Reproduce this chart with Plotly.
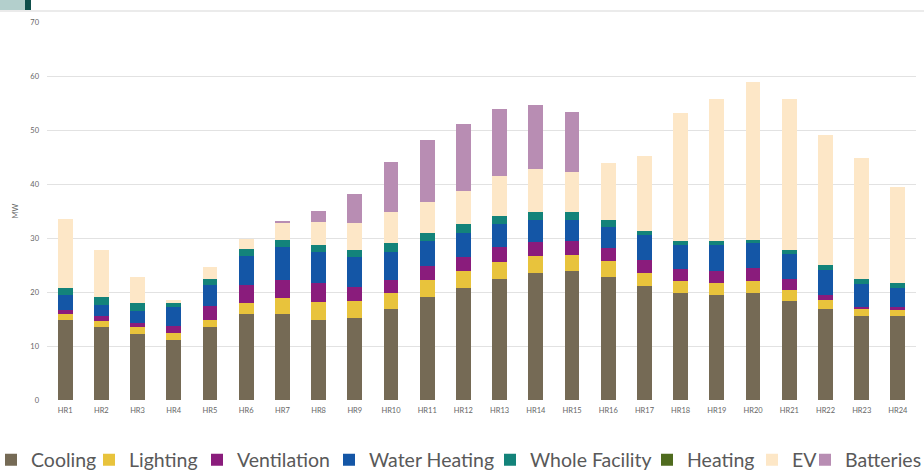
import plotly.graph_objects as go

# Hourly load by end use (MW)
hours = [f"HR{i}" for i in range(1, 25)]

cooling = [14.8, 13.6, 12.2, 11.1, 13.6, 16.0, 16.0, 14.8, 15.1, 16.8, 19.0, 20.7,
           22.4, 23.6, 23.8, 22.8, 21.1, 19.8, 19.4, 19.8, 18.4, 16.8, 15.6, 15.6]
lighting = [1.2, 1.1, 1.3, 1.4, 1.3, 2.0, 2.8, 3.4, 3.3, 3.1, 3.2, 3.2,
            3.1, 3.1, 3.1, 2.9, 2.5, 2.2, 2.3, 2.3, 2.0, 1.7, 1.2, 1.1]
ventilation = [0.7, 0.9, 0.7, 1.2, 2.5, 3.3, 3.5, 3.5, 2.6, 2.4, 2.6, 2.6,
               2.9, 2.6, 2.6, 2.4, 2.4, 2.2, 2.2, 2.3, 2.1, 0.9, 0.5, 0.6]
water_heating = [2.7, 2.0, 2.3, 3.6, 3.9, 5.4, 6.1, 5.8, 5.4, 5.2, 4.7, 4.4,
                 4.2, 4.1, 3.9, 4.0, 4.6, 4.5, 4.8, 4.6, 4.5, 4.7, 4.2, 3.4]
whole_facility = [1.3, 1.5, 1.5, 0.6, 1.2, 1.2, 1.3, 1.2, 1.3, 1.5, 1.5, 1.7,
                  1.5, 1.5, 1.5, 1.3, 0.7, 0.7, 0.7, 0.7, 0.8, 0.9, 1.0, 1.0]
heating = [0.0] * 24
ev = [12.9, 8.6, 4.8, 0.7, 2.1, 2.0, 3.0, 4.3, 5.1, 5.9, 5.6, 6.1,
      7.3, 7.8, 7.4, 10.4, 13.8, 23.7, 26.3, 29.1, 27.9, 24.1, 22.4, 17.8]
batteries = [0, 0, 0, 0, 0, 0, 0.5, 2.0, 5.3, 9.2, 11.5, 12.5,
             12.4, 11.9, 11.0, 0, 0, 0, 0, 0, 0, 0, 0, 0]

series = [
    ("Cooling", cooling, "#756a55"),
    ("Lighting", lighting, "#e8c33c"),
    ("Ventilation", ventilation, "#8a1c7c"),
    ("Water Heating", water_heating, "#1456a6"),
    ("Whole Facility", whole_facility, "#13837a"),
    ("Heating", heating, "#4f6b1e"),
    ("EV", ev, "#fde7c7"),
    ("Batteries", batteries, "#b88db3"),
]

# Where each legend entry's text begins (pixels from the left edge)
legend_text_x = [31, 129, 237, 369, 530, 687, 792, 845]
LEGEND_TEXT_OFFSET = 40

W, H = 924, 472
ML, MR, MT, MB = 47, 8, 22, 72
PW, PH = W - ML - MR, H - MT - MB


def px_x(px):
    return (px - ML) / PW


def px_y(py):
    return (H - MB - py) / PH


fig = go.Figure()
layout_legends = {}
for i, (name, vals, color) in enumerate(series):
    key = "legend" if i == 0 else f"legend{i + 1}"
    fig.add_trace(go.Bar(
        x=hours, y=vals, name=name, marker_color=color,
        marker_line_width=0, legend=key,
    ))
    layout_legends[key] = dict(
        x=px_x(legend_text_x[i] - LEGEND_TEXT_OFFSET), xanchor="left",
        y=px_y(460), yanchor="middle",
        orientation="h", itemwidth=30,
        font=dict(family="Lato", size=19.5, color="#595959"),
        bgcolor="rgba(0,0,0,0)", borderwidth=0,
    )

fig.update_layout(
    width=W, height=H,
    margin=dict(l=ML, r=MR, t=MT, b=MB, autoexpand=False),
    barmode="stack", bargap=0.59,
    plot_bgcolor="white", paper_bgcolor="white",
    font=dict(family="Lato", color="#666666"),
    xaxis=dict(
        showgrid=False, zeroline=False, showline=False, automargin=False,
        tickfont=dict(size=7.5, color="#666666"), ticklabelstandoff=4,
        ticks="", range=[-0.5, 23.5],
    ),
    yaxis=dict(
        range=[0, 70], dtick=10, showgrid=True, gridcolor="#e2e2e2",
        gridwidth=1, zeroline=False, showline=False, automargin=False,
        tickfont=dict(size=7.5, color="#666666"), ticks="",
        ticklabelstandoff=7,
        title=dict(text="MW", font=dict(size=7.5, color="#666666"), standoff=10),
    ),
    showlegend=True,
    **layout_legends,
)

# Header band at the top edge of the slide
fig.add_shape(type="rect", xref="paper", yref="paper",
              x0=px_x(0), x1=px_x(25), y0=px_y(10), y1=px_y(0),
              fillcolor="#b3cfcc", line_width=0, layer="above")
fig.add_shape(type="rect", xref="paper", yref="paper",
              x0=px_x(25), x1=px_x(31), y0=px_y(10), y1=px_y(0),
              fillcolor="#0f4f4b", line_width=0, layer="above")
fig.add_shape(type="line", xref="paper", yref="paper",
              x0=px_x(0), x1=px_x(W), y0=px_y(11), y1=px_y(11),
              line=dict(color="#ebebeb", width=2), layer="above")

fig.write_html("out.html")
